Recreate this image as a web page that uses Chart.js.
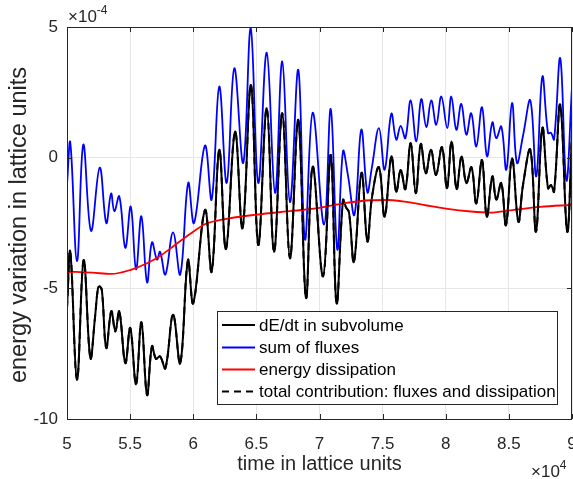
<!DOCTYPE html>
<html>
<head>
<meta charset="utf-8">
<script src="https://cdn.jsdelivr.net/npm/chart.js@4.4.0/dist/chart.umd.min.js"></script>
<style>
  html, body { margin: 0; padding: 0; background: #fff; }
  canvas { display: block; }
</style>
</head>
<body>
<canvas id="chart" width="573" height="479"></canvas>
<script>
// time in units of 10^4, energy in units of 10^-4
const xTicks = [5, 5.5, 6, 6.5, 7, 7.5, 8, 8.5, 9];
const xTickLabels = ['5', '5.5', '6', '6.5', '7', '7.5', '8', '8.5', '9'];
const yTicks = [-10, -5, 0, 5];
const yTickLabels = ['-10', '-5', '0', '5'];

const legendLabels = ['dE/dt in subvolume', 'sum of fluxes', 'energy dissipation', 'total contribution: fluxes and dissipation'];

const dEdtTime = [5.000, 5.026, 5.079, 5.132, 5.185, 5.222, 5.246, 5.261, 5.277, 5.311, 5.351, 5.383, 5.414, 5.462, 5.501, 5.547, 5.589, 5.634, 5.673, 5.705, 5.737, 5.779, 5.840, 5.897, 5.958, 6.000, 6.093, 6.146, 6.206, 6.259, 6.331, 6.390, 6.457, 6.515, 6.582, 6.640, 6.705, 6.766, 6.832, 6.893, 6.946, 7.028, 7.089, 7.135, 7.186, 7.210, 7.234, 7.273, 7.333, 7.379, 7.416, 7.471, 7.516, 7.569, 7.608, 7.643, 7.680, 7.722, 7.763, 7.802, 7.842, 7.883, 7.923, 7.970, 8.010, 8.046, 8.086, 8.125, 8.163, 8.204, 8.242, 8.287, 8.325, 8.369, 8.400, 8.440, 8.477, 8.525, 8.575, 8.612, 8.670, 8.715, 8.765, 8.810, 8.834, 8.858, 8.907, 8.962, 9.000];
const dEdtValue = [-5.75, -3.6, -8.5, -3.92, -7.67, -6.1, -4.98, -4.93, -5.1, -7.28, -5.88, -6.65, -5.88, -7.86, -6.52, -8.67, -6.3, -9.08, -7.22, -7.7, -7.6, -8.06, -6.01, -7.87, -3.92, -5.57, -2.0, -4.36, 0.3, -3.5, 1.0, -2.7, 2.78, -3.34, 1.89, -3.6, 1.7, -3.85, 1.44, -5.37, -0.34, -4.54, 0.1, -5.57, -1.62, -1.9, -2.1, -3.98, -0.58, -3.2, -1.5, -0.37, -2.26, 0.04, -1.3, -0.47, -1.2, 0.55, -1.36, 0.52, -0.6, 0.3, -0.66, 0.4, -1.17, 0.62, -1.2, 0.04, -0.97, -0.37, -1.75, -0.09, -2.26, -0.72, -1.6, -0.97, -2.58, -0.02, -2.45, -1.04, 0.3, -2.83, 1.13, -1.17, -1.05, -1.3, 2.02, -2.83, 0.95];

const fluxTime = [5.000, 5.026, 5.079, 5.129, 5.190, 5.259, 5.311, 5.349, 5.375, 5.414, 5.462, 5.505, 5.547, 5.589, 5.634, 5.673, 5.713, 5.737, 5.779, 5.840, 5.897, 5.960, 6.006, 6.093, 6.146, 6.206, 6.265, 6.325, 6.396, 6.455, 6.515, 6.582, 6.648, 6.705, 6.766, 6.832, 6.885, 6.946, 7.036, 7.089, 7.141, 7.186, 7.226, 7.277, 7.331, 7.379, 7.414, 7.471, 7.516, 7.569, 7.608, 7.643, 7.680, 7.722, 7.767, 7.806, 7.846, 7.885, 7.925, 7.965, 8.012, 8.044, 8.084, 8.123, 8.163, 8.202, 8.242, 8.287, 8.327, 8.369, 8.400, 8.440, 8.480, 8.525, 8.564, 8.612, 8.670, 8.717, 8.765, 8.810, 8.834, 8.858, 8.907, 8.955, 9.000];
const fluxValue = [-1.03, 0.58, -3.96, 0.5, -2.8, -0.38, -2.5, -1.37, -2.05, -1.48, -3.45, -1.87, -4.27, -2.24, -4.77, -3.24, -3.9, -3.6, -4.47, -2.86, -4.47, -0.97, -2.5, 0.46, -1.6, 2.72, -0.97, 3.42, -0.2, 4.95, -0.97, 4.02, -1.35, 3.68, -1.7, 3.36, -3.13, 1.72, -2.56, 1.86, -3.51, 0.24, -0.7, -2.18, 1.07, -1.32, -0.4, 1.13, -0.46, 1.68, 0.69, 1.22, 0.75, 2.19, 0.62, 2.24, 1.17, 2.19, 1.26, 2.34, 1.13, 2.34, 1.07, 2.06, 0.88, 1.7, 0.43, 1.93, 0.05, 1.35, 0.75, 1.19, -0.46, 2.09, -0.2, 0.84, 2.19, -0.71, 3.1, 0.94, 0.95, 0.7, 3.8, -0.88, 2.7];

const dissTime = [5.0, 5.2, 5.35, 5.5, 5.634, 5.75, 5.85, 5.98, 6.1, 6.25, 6.5, 6.8, 7.0, 7.2, 7.4, 7.55, 7.7, 7.85, 8.0, 8.2, 8.35, 8.5, 8.75, 9.0];
const dissValue = [-4.36, -4.4, -4.45, -4.3, -4.04, -3.72, -3.36, -2.9, -2.53, -2.35, -2.18, -2.03, -1.92, -1.74, -1.63, -1.62, -1.7, -1.83, -1.95, -2.06, -2.1, -2.02, -1.88, -1.81];

// the dashed total lies on top of dE/dt in the figure
const totalTime = dEdtTime;
const totalValue = dEdtValue;

const AXIS = '#262626';
const FONT = '"Liberation Sans", Arial, Helvetica, sans-serif';

function pts(t, v) {
  return t.map((x, i) => ({ x: x, y: v[i] }));
}

const matlabDecor = {
  id: 'matlabDecor',
  afterDraw(chart) {
    const ctx = chart.ctx;
    const a = chart.chartArea;
    const xs = chart.scales.x, ys = chart.scales.y;
    ctx.save();
    // inward ticks
    ctx.strokeStyle = AXIS;
    ctx.lineWidth = 1;
    ctx.beginPath();
    xTicks.forEach(v => {
      const px = Math.round(xs.getPixelForValue(v)) + 0.5;
      ctx.moveTo(px, a.bottom); ctx.lineTo(px, a.bottom - 5);
      ctx.moveTo(px, a.top); ctx.lineTo(px, a.top + 5);
    });
    yTicks.forEach(v => {
      const py = Math.round(ys.getPixelForValue(v)) + 0.5;
      ctx.moveTo(a.left, py); ctx.lineTo(a.left + 5, py);
      ctx.moveTo(a.right, py); ctx.lineTo(a.right - 5, py);
    });
    ctx.stroke();
    // box
    ctx.strokeRect(Math.round(a.left) + 0.5, Math.round(a.top) + 0.5, Math.round(a.right - a.left) - 1, Math.round(a.bottom - a.top));

    // exponent labels
    ctx.fillStyle = AXIS;
    ctx.textBaseline = 'alphabetic';
    ctx.textAlign = 'left';
    ctx.font = '17px ' + FONT;
    ctx.fillText('\u00d710', 68, 22);
    let w = ctx.measureText('\u00d710').width;
    ctx.font = '12px ' + FONT;
    ctx.fillText('-4', 68 + w, 14);
    ctx.font = '17px ' + FONT;
    ctx.fillText('\u00d710', 531, 477);
    w = ctx.measureText('\u00d710').width;
    ctx.font = '12px ' + FONT;
    ctx.fillText('4', 531 + w, 469);

    // axis titles
    ctx.font = '20px ' + FONT;
    ctx.textAlign = 'center';
    ctx.fillText('time in lattice units', (a.left + a.right) / 2, 470);
    ctx.save();
    ctx.translate(26, (a.top + a.bottom) / 2 + 2);
    ctx.rotate(-Math.PI / 2);
    ctx.font = '23.5px ' + FONT;
    ctx.fillText('energy variation in lattice units', 0, 0);
    ctx.restore();

    // legend
    const lx = 217.5, ly = 311.5, lw = 340, lh = 93;
    ctx.fillStyle = '#fff';
    ctx.fillRect(lx, ly, lw, lh);
    ctx.strokeStyle = AXIS;
    ctx.strokeRect(lx, ly, lw, lh);
    const rows = [325, 347.5, 369.5, 391.5];
    ctx.font = '17px ' + FONT;
    ctx.textAlign = 'left';
    ctx.textBaseline = 'middle';
    chart.data.datasets.forEach((ds, i) => {
      ctx.strokeStyle = ds.borderColor;
      ctx.lineWidth = 2;
      ctx.setLineDash(ds.borderDash || []);
      ctx.beginPath();
      ctx.moveTo(222, rows[i]);
      ctx.lineTo(255, rows[i]);
      ctx.stroke();
      ctx.setLineDash([]);
      ctx.fillStyle = '#000';
      ctx.fillText(legendLabels[i], 259, rows[i] + 1);
    });
    ctx.restore();
  }
};

new Chart(document.getElementById('chart'), {
  type: 'line',
  data: {
    datasets: [
      { label: legendLabels[0], data: pts(dEdtTime, dEdtValue), borderColor: '#000000', borderWidth: 2, order: 4 },
      { label: legendLabels[1], data: pts(fluxTime, fluxValue), borderColor: '#0000ff', borderWidth: 1.8, order: 3 },
      { label: legendLabels[2], data: pts(dissTime, dissValue), borderColor: '#ff0000', borderWidth: 1.8, order: 2, cubicInterpolationMode: 'monotone' },
      { label: legendLabels[3], data: pts(totalTime, totalValue), borderColor: '#000000', borderWidth: 2, borderDash: [7, 5], order: 1 }
    ]
  },
  options: {
    responsive: false,
    animation: false,
    devicePixelRatio: 1,
    layout: { padding: { top: 27, right: 1, left: 0, bottom: 0 } },
    elements: {
      point: { radius: 0 },
      line: { tension: 0.4, fill: false }
    },
    plugins: { legend: { display: false }, tooltip: { enabled: false } },
    scales: {
      x: {
        type: 'linear',
        min: 5, max: 9,
        afterBuildTicks: s => { s.ticks = xTicks.map(v => ({ value: v })); },
        afterFit: s => { s.height = 60; s.paddingLeft = 0; s.paddingRight = 0; },
        ticks: {
          callback: (v, i) => xTickLabels[i],
          font: { family: FONT, size: 17 },
          color: AXIS,
          padding: 15,
          maxRotation: 0
        },
        grid: { color: '#e6e6e6', drawTicks: false },
        border: { display: false }
      },
      y: {
        type: 'linear',
        min: -10, max: 5,
        afterBuildTicks: s => { s.ticks = yTicks.map(v => ({ value: v })); },
        afterFit: s => { s.width = 67; s.paddingTop = 0; s.paddingBottom = 0; },
        ticks: {
          callback: (v, i) => yTickLabels[i],
          font: { family: FONT, size: 17 },
          color: AXIS,
          padding: 9
        },
        grid: { color: '#e6e6e6', drawTicks: false },
        border: { display: false }
      }
    }
  },
  plugins: [matlabDecor]
});
</script>
</body>
</html>
